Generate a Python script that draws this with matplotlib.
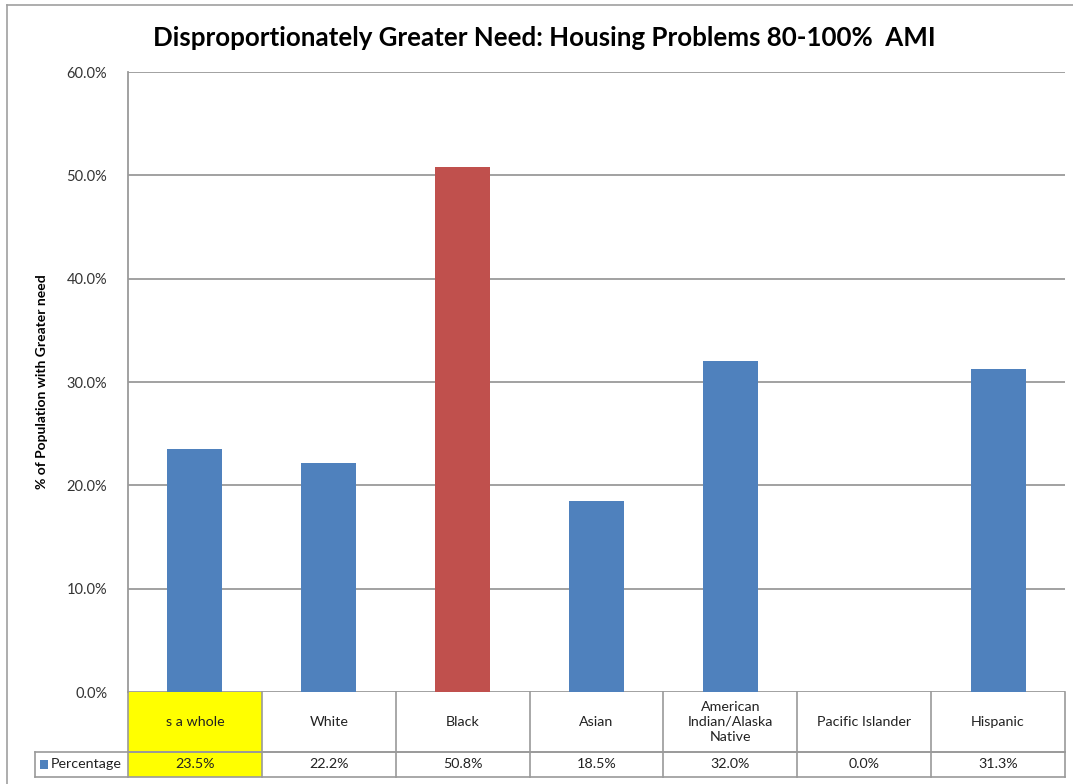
import numpy as np
import matplotlib
matplotlib.use("Agg")
import matplotlib.pyplot as plt
import matplotlib.ticker as mtick
from matplotlib.patches import Rectangle
from matplotlib.transforms import blended_transform_factory

plt.rcParams['font.family'] = ['Lato', 'DejaVu Sans']

categories = ["s a whole", "White", "Black", "Asian",
              "American\nIndian/Alaska\nNative", "Pacific Islander", "Hispanic"]
cell_text = ["23.5%", "22.2%", "50.8%", "18.5%", "32.0%", "0.0%", "31.3%"]
values = [23.5, 22.2, 50.8, 18.5, 32.0, 0.0, 31.3]
bar_colors = ["#4F81BD", "#4F81BD", "#C0504D", "#4F81BD", "#4F81BD", "#4F81BD", "#4F81BD"]
series_name = "Percentage"

W, H = 1073, 784
fig = plt.figure(figsize=(W / 100, H / 100), dpi=100)

# plot area in pixels
px0, px1, py0, py1 = 128, 1065, 72, 692
ax = fig.add_axes([px0 / W, 1 - py1 / H, (px1 - px0) / W, (py1 - py0) / H])

x = np.arange(len(categories))
ax.bar(x, values, width=0.41, color=bar_colors, zorder=3)
ax.set_xlim(-0.5, len(categories) - 0.5)
ax.set_ylim(0, 60)
ax.set_yticks(np.arange(0, 61, 10))
ax.yaxis.set_major_formatter(mtick.FormatStrFormatter('%.1f%%'))
ax.tick_params(axis='y', length=0, pad=15, labelsize=10.5, labelcolor="#333333")
ax.set_xticks([])
ax.grid(axis='y', color="#9A9A9A", linewidth=1.3, zorder=0)
for s in ["top", "right", "bottom"]:
    ax.spines[s].set_visible(False)
ax.spines["left"].set_color("#9A9A9A")
ax.spines["left"].set_linewidth(1.3)
ax.set_ylabel("% of Population with Greater need", fontsize=10, fontweight='bold', labelpad=13)

# data table under the plot
tr = blended_transform_factory(ax.transData, ax.transAxes)
ph = py1 - py0
r1 = -(752 - py1) / ph
r2 = -(777 - py1) / ph
unit = (px1 - px0) / len(categories)
leg_left = -0.5 - (px0 - 35) / unit
lc = "#9A9A9A"
ax.add_patch(Rectangle((-0.5, r2), 1, -r2, transform=tr, facecolor="#FFFF00",
                       edgecolor="none", clip_on=False, zorder=1))
kw = dict(transform=tr, color=lc, linewidth=1.2, clip_on=False, zorder=2)
ax.plot([-0.5, len(categories) - 0.5], [r1, r1], **kw)
ax.plot([leg_left, len(categories) - 0.5], [r1, r1], **kw)
ax.plot([leg_left, len(categories) - 0.5], [r2, r2], **kw)
ax.plot([leg_left, leg_left], [r1, r2], **kw)
for i in range(len(categories) + 1):
    ax.plot([i - 0.5, i - 0.5], [0, r2], **kw)
for i, (c, t) in enumerate(zip(categories, cell_text)):
    ax.text(i, r1 / 2, c, transform=tr, ha='center', va='center', fontsize=10.3,
            color="#222222", linespacing=1.3, clip_on=False)
    ax.text(i, (r1 + r2) / 2, t, transform=tr, ha='center', va='center', fontsize=10.3,
            color="#222222", clip_on=False)
ax.add_patch(Rectangle((leg_left + 0.04, (r1 + r2) / 2 - 0.008), 0.06, 0.016, transform=tr,
                       facecolor="#4F81BD", edgecolor="none", clip_on=False))
ax.text(leg_left + 0.12, (r1 + r2) / 2, series_name, transform=tr, ha='left', va='center',
        fontsize=10.3, color="#222222", clip_on=False)

fig.text(0.507, 1 - 38 / H, "Disproportionately Greater Need: Housing Problems 80-100%  AMI",
         ha='center', va='center', fontsize=18.6, fontweight='bold')

# outer chart border
fig.add_artist(plt.Line2D([7 / W, 7 / W], [0, 1 - 5 / H], color="#A0A0A0", linewidth=1.2))
fig.add_artist(plt.Line2D([7 / W, 1], [1 - 5 / H, 1 - 5 / H], color="#A0A0A0", linewidth=1.2))

fig.savefig("out.png", dpi=100)
